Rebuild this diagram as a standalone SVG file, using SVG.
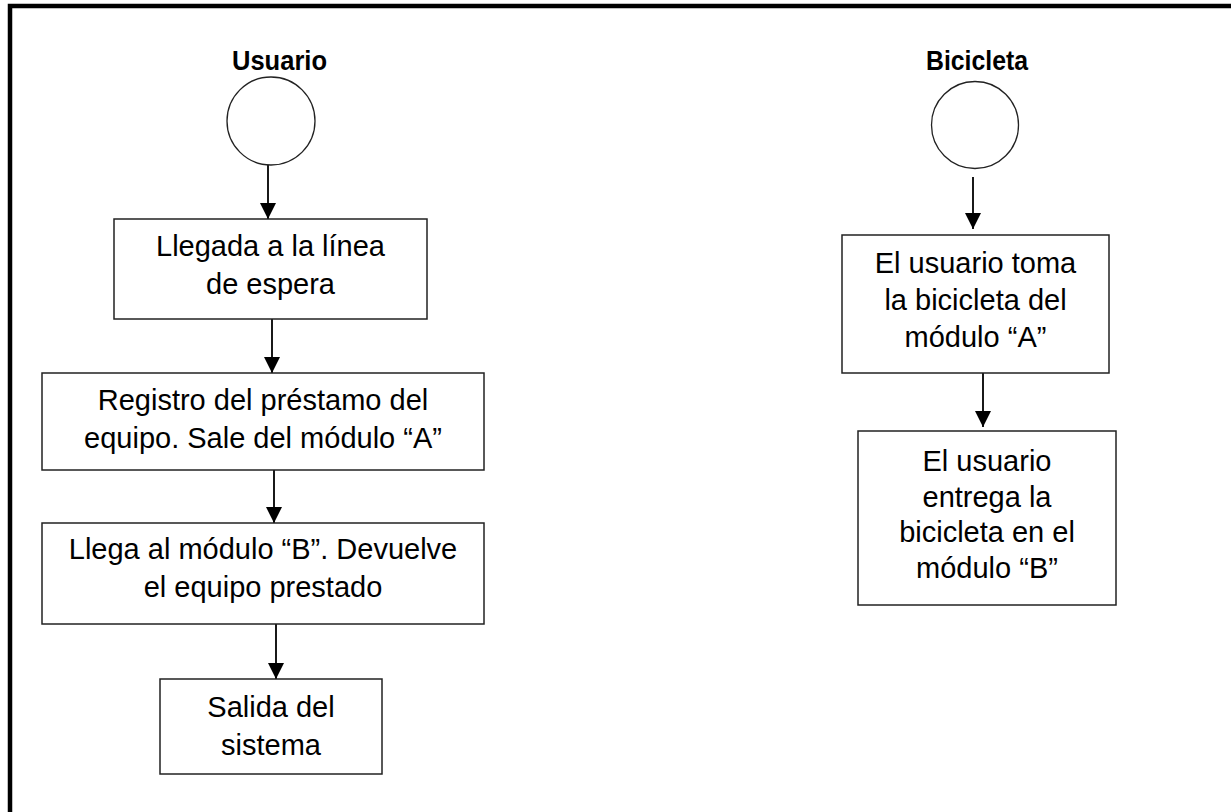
<svg xmlns="http://www.w3.org/2000/svg" width="1231" height="812" viewBox="0 0 1231 812">
<style>
.box{fill:#fff;stroke:#222;stroke-width:1.5}
.circ{fill:#fff;stroke:#222;stroke-width:1.3}
.t{font-family:"Liberation Sans",Arial,sans-serif;font-size:29px;fill:#000;text-anchor:middle}
.h{font-family:"Liberation Sans",Arial,sans-serif;font-size:27.5px;font-weight:bold;fill:#000;text-anchor:middle}
.c{stroke:#000;stroke-width:1.8;fill:none;marker-end:url(#ah)}
</style>
<defs>
<marker id="ah" viewBox="0 0 16 16" refX="16" refY="8" markerWidth="16" markerHeight="16" markerUnits="userSpaceOnUse" orient="auto">
<path d="M0,0 L16,8 L0,16 Z" fill="#000"/>
</marker>
</defs>
<rect x="0" y="0" width="1231" height="812" fill="#fff"/>
<rect x="10" y="6" width="1300" height="900" fill="none" stroke="#000" stroke-width="4.5"/>
<g id="connectors">
<line class="c" x1="268" y1="165" x2="268" y2="219"/>
<line class="c" x1="272" y1="319" x2="272" y2="373"/>
<line class="c" x1="274" y1="470" x2="274" y2="523"/>
<line class="c" x1="276" y1="624" x2="276" y2="679"/>
<line class="c" x1="973" y1="177" x2="973" y2="229"/>
<line class="c" x1="983" y1="373" x2="983" y2="427"/>
</g>
<g id="usuario">
<text class="h" x="279.5" y="70" textLength="95" lengthAdjust="spacingAndGlyphs">Usuario</text>
<circle class="circ" cx="271" cy="121" r="44"/>
</g>
<g id="bicicleta">
<text class="h" x="977" y="70" textLength="102" lengthAdjust="spacingAndGlyphs">Bicicleta</text>
<circle class="circ" cx="975" cy="125" r="43.5"/>
</g>
<g id="llegada">
<rect class="box" x="114" y="219" width="313" height="100"/>
<text class="t" x="270.5" y="256">Llegada a la línea</text>
<text class="t" x="270.5" y="294">de espera</text>
</g>
<g id="registro">
<rect class="box" x="42" y="373" width="442" height="97"/>
<text class="t" x="263" y="410">Registro del préstamo del</text>
<text class="t" x="263" y="448">equipo. Sale del módulo “A”</text>
</g>
<g id="devuelve">
<rect class="box" x="42" y="523" width="442" height="101"/>
<text class="t" x="263" y="559">Llega al módulo “B”. Devuelve</text>
<text class="t" x="263" y="597">el equipo prestado</text>
</g>
<g id="salida">
<rect class="box" x="160" y="679" width="222" height="95"/>
<text class="t" x="271" y="717">Salida del</text>
<text class="t" x="271" y="755">sistema</text>
</g>
<g id="toma">
<rect class="box" x="842" y="235" width="267" height="138"/>
<text class="t" x="975.5" y="273">El usuario toma</text>
<text class="t" x="975.5" y="310">la bicicleta del</text>
<text class="t" x="975.5" y="347">módulo “A”</text>
</g>
<g id="entrega">
<rect class="box" x="858" y="431" width="258" height="174"/>
<text class="t" x="987" y="471">El usuario</text>
<text class="t" x="987" y="507">entrega la</text>
<text class="t" x="987" y="542">bicicleta en el</text>
<text class="t" x="987" y="578">módulo “B”</text>
</g>
</svg>
